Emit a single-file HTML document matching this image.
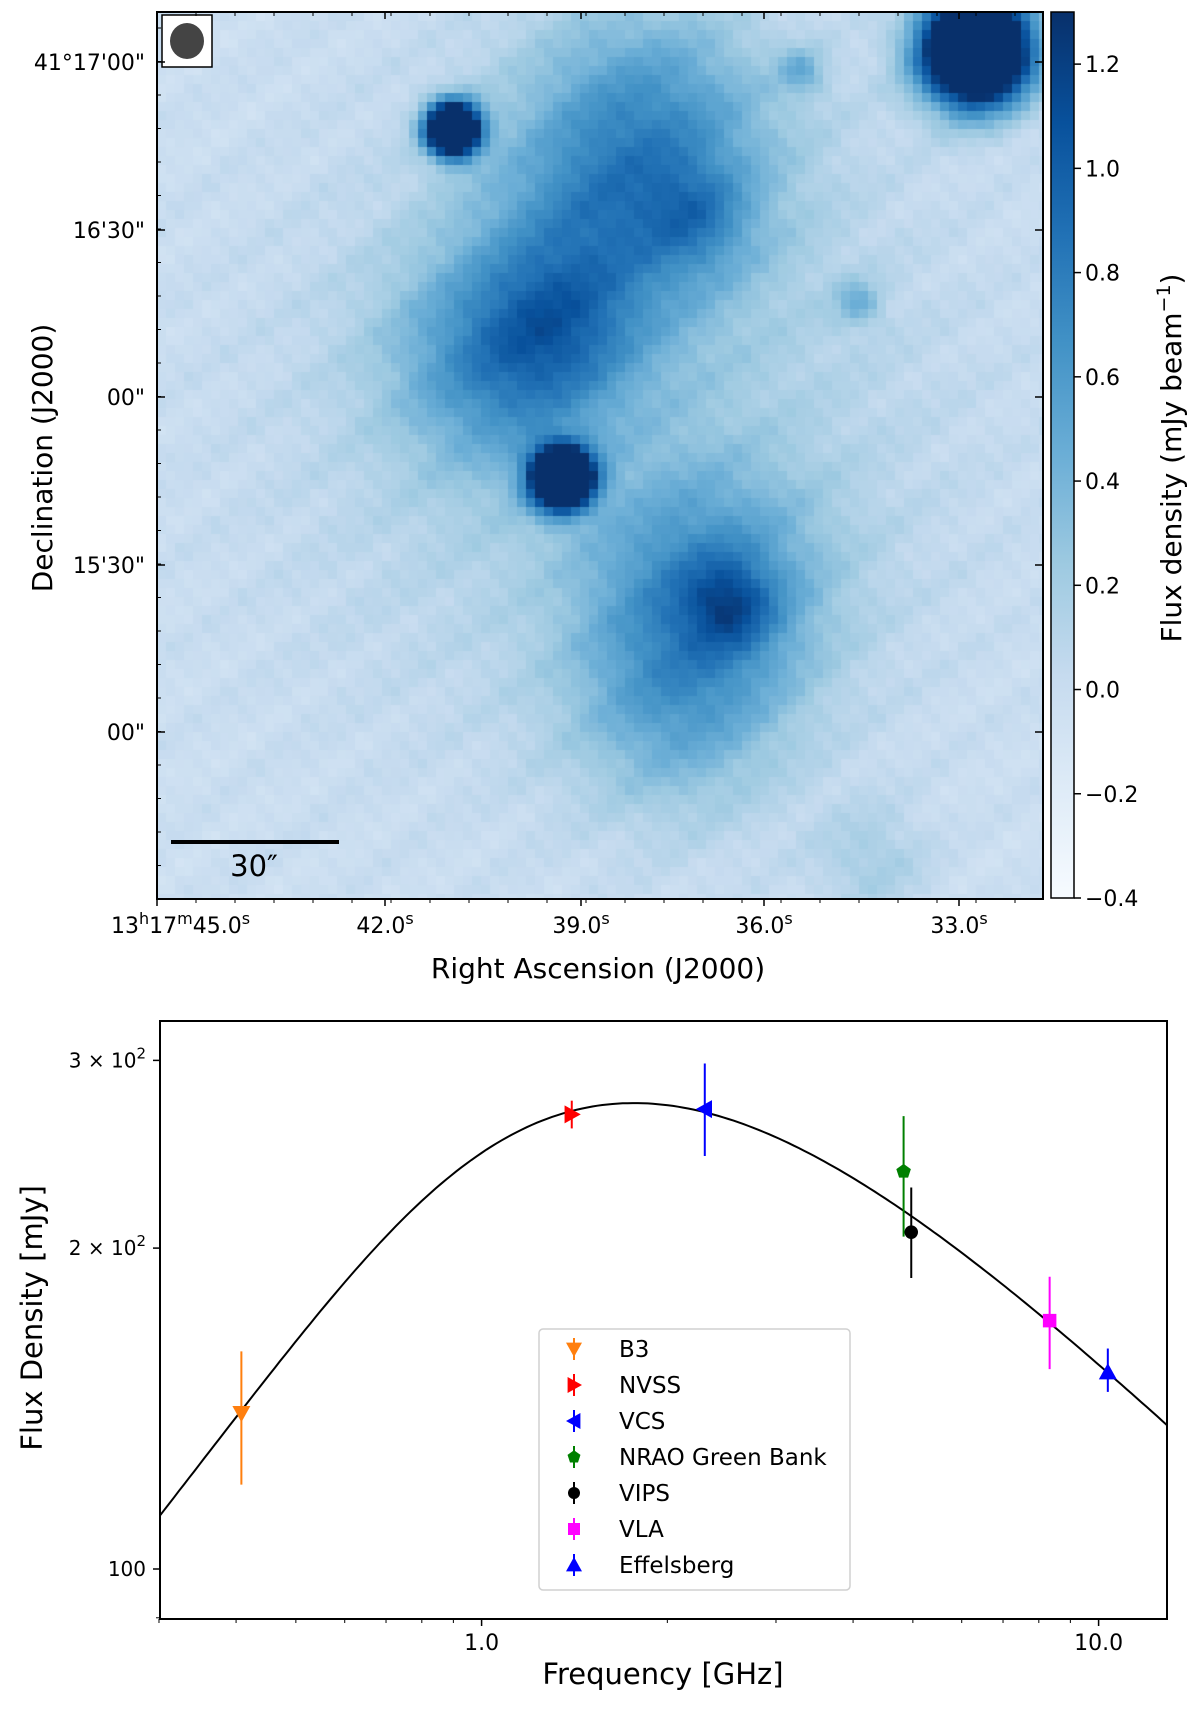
<!DOCTYPE html>
<html><head><meta charset="utf-8">
<style>
body{margin:0;background:#fff;width:1200px;height:1715px;position:relative;overflow:hidden;font-family:"DejaVu Sans","Liberation Sans",sans-serif;}
#img{position:absolute;left:157px;top:12px;}
svg{position:absolute;left:0;top:0;}
</style></head>
<body>
<canvas id="img" width="886" height="887"></canvas>
<svg id="s" width="1200" height="1715" font-family="DejaVu Sans, Liberation Sans, sans-serif">
<defs>
<linearGradient id="cb" x1="0" y1="1" x2="0" y2="0">
<stop offset="0" stop-color="#f7fbff"/><stop offset="0.125" stop-color="#deebf7"/><stop offset="0.25" stop-color="#c6dbef"/><stop offset="0.375" stop-color="#9ecae1"/><stop offset="0.5" stop-color="#6baed6"/><stop offset="0.625" stop-color="#4292c6"/><stop offset="0.75" stop-color="#2171b5"/><stop offset="0.875" stop-color="#08519c"/><stop offset="1" stop-color="#08306b"/>
</linearGradient>
</defs>
<g id="topg" font-size="22" fill="#000"></g>
<g id="botg" font-size="20" fill="#000"></g>
</svg>
<script>
// ---------- top image data ----------
const blobX=[453,976,562,655,698,502,709,731,676,620,858,802,872,640,590,560];
const blobY=[129,50,478,164,218,360,589,605,709,420,303,71,862,100,250,330];
const blobR=[26,55,30,95,35,75,80,30,75,230,16,16,40,80,80,50];
const blobV=[3.0,3.0,3.0,0.42,0.3,0.6,0.6,0.45,0.4,0.22,0.35,0.35,0.2,0.25,0.35,0.25];
const decTicks=["41°17'00\"","16'30\"","00\"","15'30\"","00\""];
const decPos=[62,230,397,565,732];
const raMain=["45.0","42.0","39.0","36.0","33.0"];
const raPos=[157,385,581,764,959];
const cbTicks=[-0.4,-0.2,0.0,0.2,0.4,0.6,0.8,1.0,1.2];
// ---------- spectrum data ----------
const names=["B3","NVSS","VCS","NRAO Green Bank","VIPS","VLA","Effelsberg"];
const freq=[0.408,1.4,2.3,4.83,4.97,8.33,10.35];
const flux=[140,267,270,236,207,171,153];
const errLo=[120,259,244,205,187.5,154,146.6];
const errHi=[160,275,298,266,228,188,161];
const colors=["#ff7f0e","#ff0000","#0000ff","#008000","#000000","#ff00ff","#0000ff"];
const markers=["tri-down","tri-right","tri-left","pentagon","circle","square","tri-up"];
const fitPeakFreq=1.82, fitPeakFlux=273.5, fitThick=0.75, fitThin=-0.57;

const NS="http://www.w3.org/2000/svg";
function el(tag,attrs,parent,text){const e=document.createElementNS(NS,tag);for(const k in attrs)e.setAttribute(k,attrs[k]);if(text!==undefined)e.textContent=text;parent.appendChild(e);return e;}

const stops=[[247,251,255],[222,235,247],[198,219,239],[158,202,225],[107,174,214],[66,146,198],[33,113,181],[8,81,156],[8,48,107]];
function cmap(t){t=Math.max(0,Math.min(1,t));const p=t*8,i=Math.min(7,Math.floor(p)),f=p-i;return stops[i].map((c,j)=>Math.round(c+(stops[i+1][j]-c)*f));}
const cv=document.getElementById('img'),ctx=cv.getContext('2d');
const IW=886,IH=887,cell=9;
for(let gy=0;gy<IH;gy+=cell){for(let gx=0;gx<IW;gx+=cell){
 const x=157+gx+cell/2,y=12+gy+cell/2;
 let v=-0.03+0.035*Math.sin(gx*0.11+1.3*Math.sin(gy*0.02))*Math.cos(gy*0.13)+0.03*Math.sin(gx*0.047+gy*0.071)+0.02*Math.sin(gx*0.23-gy*0.17);
 for(let i=0;i<blobX.length;i++){const dx=x-blobX[i],dy=y-blobY[i];v+=blobV[i]*Math.exp(-(dx*dx+dy*dy)/(2*blobR[i]*blobR[i]*(blobV[i]>2?0.45:1)));}
 const c=cmap((v+0.4)/1.7);ctx.fillStyle=`rgb(${c[0]},${c[1]},${c[2]})`;ctx.fillRect(gx,gy,cell,cell);
}}

const topG=document.getElementById('topg');
let r=el('rect',{x:157,y:12,width:886,height:887,fill:'none',stroke:'#000','stroke-width':2},topG);


let g=el('g',{},topG);


el('rect',{x:162,y:15,width:50,height:52,fill:'#fff',stroke:'#000','stroke-width':1.5},g);
el('ellipse',{cx:187,cy:41,rx:17,ry:18,fill:'#444'},g);
g=el('g',{},topG);


el('rect',{x:171,y:840,width:168,height:4,fill:'#000'},g);
el('text',{x:254,y:876,'font-size':29,'text-anchor':'middle'},g,'30″');
decTicks.forEach((t,i)=>{
 el('line',{x1:157,x2:165,y1:decPos[i],y2:decPos[i],stroke:'#000','stroke-width':1.5},topG);
 el('line',{x1:1043,x2:1035,y1:decPos[i],y2:decPos[i],stroke:'#000','stroke-width':1.5},topG);
 const tx=el('text',{x:145,y:decPos[i]+8,'text-anchor':'end'},topG,t);
 
 
});
for(let y=28;y<899;y+=33.5){el('line',{x1:157,x2:161,y1:y,y2:y,stroke:'#000','stroke-width':1},topG);}
raMain.forEach((t,i)=>{
 el('line',{x1:raPos[i],x2:raPos[i],y1:899,y2:906,stroke:'#000','stroke-width':1.5},topG);
 el('line',{x1:raPos[i],x2:raPos[i],y1:12,y2:19,stroke:'#000','stroke-width':1.5},topG);
 const tx=el('text',{x:i==0?111:raPos[i],y:933,'text-anchor':i==0?'start':'middle'},topG);
 
 
 tx.innerHTML=(i==0?'13<tspan dy="-9" font-size="16">h</tspan><tspan dy="9">17</tspan><tspan dy="-9" font-size="16">m</tspan><tspan dy="9">':'<tspan>')+t+'</tspan><tspan dy="-9" font-size="16">s</tspan>';
});
for(let x=196;x<1043;x+=39){el('line',{x1:x,x2:x,y1:899,y2:903,stroke:'#000'},topG);el('line',{x1:x,x2:x,y1:12,y2:16,stroke:'#000'},topG);}
let t=el('text',{x:598,y:978,'font-size':28,'text-anchor':'middle'},topG,'Right Ascension (J2000)');


t=el('text',{x:0,y:0,'font-size':28,'text-anchor':'middle',transform:'translate(52,458) rotate(-90)'},topG,'Declination (J2000)');


g=el('g',{},topG);


el('rect',{x:1051,y:12,width:23,height:886,fill:'url(#cb)',stroke:'#000','stroke-width':1.5},g);
const cbY=v=>898-(v+0.4)/1.7*886;
cbTicks.forEach(v=>{const y=cbY(v);el('line',{x1:1074,x2:1081,y1:y,y2:y,stroke:'#000','stroke-width':1.5},g);
 el('text',{x:1085,y:y+8,'font-size':22},g,(v<0?'−':'')+Math.abs(v).toFixed(1));});
t=el('text',{x:0,y:0,'font-size':28,'text-anchor':'middle',transform:'translate(1181,458) rotate(-90)'},topG);


t.innerHTML='Flux density (mJy beam<tspan baseline-shift="super" font-size="19">−1</tspan>)';

// ---------- spectrum ----------
const botG=document.getElementById('botg');
const L=160,R=1167,T=1021,B=1619;
const xS=f=>481.6+Math.log10(f)*617;
const yS=s=>1569-(Math.log10(s)-2)*1066;
const pa=el('rect',{x:L,y:T,width:R-L,height:B-T,fill:'none',stroke:'#000','stroke-width':2},botG);


[[300,'3 × 10'],[200,'2 × 10'],[100,'100']].forEach(([v,s])=>{const y=yS(v);
 el('line',{x1:L,x2:L-7,y1:y,y2:y,stroke:'#000','stroke-width':1.5},botG);
 const tx=el('text',{x:146,y:y+7,'text-anchor':'end'},botG);
 
 
 if(v==100)tx.textContent='100';else tx.innerHTML=s+'<tspan dy="-9" font-size="15">2</tspan>';});
el('line',{x1:L,x2:L-4,y1:yS(90),y2:yS(90),stroke:'#000'},botG);
[0.3,0.4,0.5,0.6,0.7,0.8,0.9,2,3,4,5,6,7,8,9].forEach(f=>{const x=xS(f);el('line',{x1:x,x2:x,y1:B,y2:B+4,stroke:'#000'},botG);});
[1,10].forEach(f=>{const x=xS(f);el('line',{x1:x,x2:x,y1:B,y2:B+7,stroke:'#000','stroke-width':1.5},botG);
 const tx=el('text',{x:x,y:B+31,'text-anchor':'middle','font-size':22},botG,f.toFixed(1));
 
 });
t=el('text',{x:663,y:1684,'font-size':29,'text-anchor':'middle'},botG,'Frequency [GHz]');


t=el('text',{x:0,y:0,'font-size':29,'text-anchor':'middle',transform:'translate(42,1318) rotate(-90)'},botG,'Flux Density [mJy]');


function model(f){const u=f/fitPeakFreq;return fitPeakFlux*Math.pow(u,fitThick)*(1-Math.exp(-Math.pow(u,fitThin-fitThick)))/(1-Math.exp(-1));}
let d='';for(let i=0;i<=200;i++){const lf=Math.log10(0.3)+i/200*(Math.log10(12.9)-Math.log10(0.3));const f=Math.pow(10,lf);d+=(i?'L':'M')+xS(f).toFixed(1)+','+yS(model(f)).toFixed(1);}
const cl=el('clipPath',{id:'pc'},botG);el('rect',{x:L,y:T,width:R-L,height:B-T},cl);
const fit=el('path',{d:d,fill:'none',stroke:'#000','stroke-width':2,'clip-path':'url(#pc)'},botG);


function marker(type,x,y,c,p,s){s=s||9;let pts;
 if(type=='circle'){el('circle',{cx:x,cy:y,r:s*0.75,fill:c},p);return;}
 if(type=='square'){el('rect',{x:x-s*0.75,y:y-s*0.75,width:s*1.5,height:s*1.5,fill:c},p);return;}
 if(type=='tri-down')pts=[[x-s,y-s*0.8],[x+s,y-s*0.8],[x,y+s]];
 if(type=='tri-up')pts=[[x-s,y+s*0.8],[x+s,y+s*0.8],[x,y-s]];
 if(type=='tri-right')pts=[[x-s*0.8,y-s],[x-s*0.8,y+s],[x+s,y]];
 if(type=='tri-left')pts=[[x+s*0.8,y-s],[x+s*0.8,y+s],[x-s,y]];
 if(type=='pentagon'){pts=[];for(let k=0;k<5;k++){const a=-Math.PI/2+k*2*Math.PI/5;pts.push([x+s*0.85*Math.cos(a),y+s*0.85*Math.sin(a)]);}}
 el('polygon',{points:pts.map(q=>q.join(',')).join(' '),fill:c},p);}
names.forEach((n,i)=>{const x=xS(freq[i]);
 const gg=el('g',{},botG);
 
 
 el('line',{x1:x,x2:x,y1:yS(errLo[i]),y2:yS(errHi[i]),stroke:colors[i],'stroke-width':2},gg);
 marker(markers[i],x,yS(flux[i]),colors[i],gg);});
const lg=el('g',{},botG);


el('rect',{x:539,y:1329,width:311,height:261,rx:4,fill:'#fff',stroke:'#d0d0d0','stroke-width':1.5},lg);
names.forEach((n,i)=>{const y=1349+i*36;const e=el('g',{},lg);
 
 
 el('line',{x1:574,x2:574,y1:y-11,y2:y+11,stroke:colors[i],'stroke-width':2},e);
 marker(markers[i],574,y,colors[i],e,8);
 el('text',{x:619,y:y+8,'font-size':23},e,n);});
</script>
</body></html>
